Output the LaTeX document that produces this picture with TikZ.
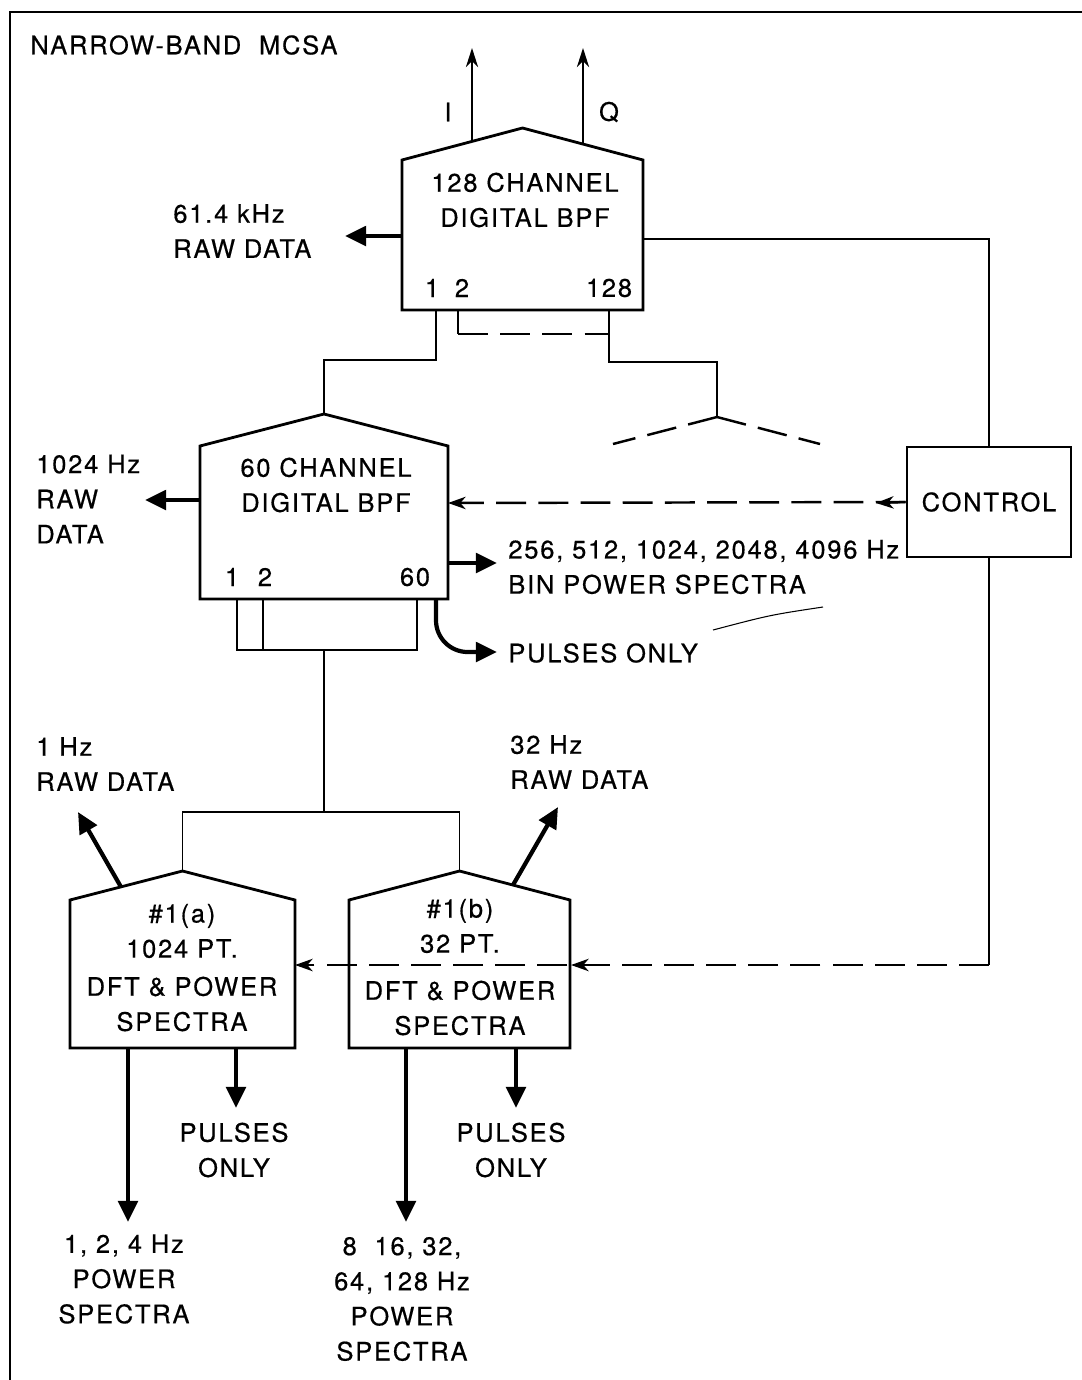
\documentclass[tikz,border=0pt]{standalone}
\usepackage{fontspec}
\setmainfont{TeX Gyre Heros}[LetterSpace=7,FakeBold=0.5]
\usetikzlibrary{arrows.meta,calc}
\tikzset{
  every node/.append style={font=\fontsize{14.5}{20}\selectfont,inner sep=0pt},
  boxline/.style={line width=1.6pt,line join=miter},
  wire/.style={line width=1.1pt},
  dashwire/.style={line width=1.4pt,dash pattern=on 17pt off 7pt},
  fatarrow/.style={line width=2.4pt,-{Triangle[length=12pt,width=11pt]}},
  thinarrow/.style={line width=1.1pt,-{Stealth[length=11pt,width=7pt]}},
  ctlarrow/.style={-{Stealth[length=10pt,width=7pt,inset=3pt]}},
}
% house shaped box: name, left, right, shoulder y, apex y, bottom y
\newcommand{\housebox}[6]{%
  \coordinate (#1-apex) at ({(#2+#3)/2},#5);
  \draw[boxline] (#2,#6) -- (#2,#4) -- (#1-apex) -- (#3,#4) -- (#3,#6) -- cycle;}

\begin{document}
\begin{tikzpicture}[x=0.02cm,y=-0.02cm]
\useasboundingbox (0,0) rectangle (1082,1380);
\draw[boxline] (10,1380) -- (10,12) -- (1082,12);
\node[anchor=west] (title) at (30,45) {NARROW-BAND\ \ MCSA};

% 128 channel filter
\housebox{bpfA}{402}{643}{160}{128}{310}
\node[align=center] (bpfAtxt) at (525,200) {128 CHANNEL\\DIGITAL BPF};
\node (pA1) at (432,288) {1};
\node (pA2) at (462,288) {2};
\node (pA128) at (609,288) {128};
\node (lblI) at (448,112) {I};
\node (lblQ) at (609,112) {Q};
\draw[thinarrow] (472,141) -- (472,48);
\draw[thinarrow] (583,144) -- (583,48);
\node[anchor=west,align=left] (rawA) at (173,231) {61.4 kHz\\RAW DATA};
\draw[fatarrow] (402,236) -- (345,236);

% control
\node[draw,boxline,minimum width=3.28cm,minimum height=2.2cm] (ctrl) at (989,502) {CONTROL};
\draw[wire] (643,239) -| (ctrl.north);

% 60 channel filter
\housebox{bpfB}{200}{448}{446}{414}{599}
\node[align=center] (bpfBtxt) at (326,485) {60 CHANNEL\\DIGITAL BPF};
\node (pB1) at (232,577) {1};
\node (pB2) at (265,577) {2};
\node (pB60) at (415,577) {60};
\node[anchor=west,align=left] (rawB) at (36,499) {1024 Hz\\RAW\\DATA};
\draw[fatarrow] (200,500) -- (145,500);
\node[anchor=west,align=left] (binB) at (508,567) {256, 512, 1024, 2048, 4096 Hz\\BIN POWER SPECTRA};
\draw[fatarrow] (448,563) -- (497,563);
\node[anchor=west] (pulB) at (508,653) {PULSES ONLY};
\draw[fatarrow,rounded corners=18pt] (436,599) |- (497,652);
\draw[line width=0.6pt] (713,630) .. controls (770,615) .. (823,607);
\draw[dashwire,ctlarrow] (ctrl.west) -- (448,503);
\draw[line width=1.4pt,ctlarrow] (ctrl.west) -- (876,503);

% outputs of the 128 channel filter
\draw[wire] (436,310) -- (436,360) -| (bpfB-apex);
\draw[wire] (458,310) -- (458,334);
\draw[dashwire] (458,334) -- (609,334);
\draw[wire] (609,310) -- (609,362) -| (717,417);
\draw[dashwire] (717,417) -- (613,444);
\draw[dashwire] (717,417) -- (820,444);

% outputs of the 60 channel filter
\draw[wire] (237,599) -- (237,650) -- (417,650) -- (417,599);
\draw[wire] (263,599) -- (263,650);
\draw[wire] (324,650) -- (324,812);

% DFT boxes
\housebox{dftA}{70}{295}{900}{871}{1048}
\housebox{dftB}{349}{570}{900}{871}{1048}
\draw[wire] (dftA-apex) -- ++(0,-59) -| (dftB-apex);
\node[align=center] (dftAtop) at (182,931) {\#1(a)\\1024 PT.};
\node[align=center] (dftAbot) at (182,1004) {DFT \& POWER\\SPECTRA};
\node[align=center] (dftBtop) at (460,926) {\#1(b)\\32 PT.};
\node[align=center] (dftBbot) at (460,1008) {DFT \& POWER\\SPECTRA};
\node[anchor=west,align=left] (rawC) at (36,764) {1 Hz\\RAW DATA};
\node[anchor=west,align=left] (rawD) at (510,762) {32 Hz\\RAW DATA};
\draw[fatarrow] (121,887) -- (78,812);
\draw[fatarrow] (513,885) -- (558,807);
\coordinate (ctrlturn) at (ctrl.south |- 0,965);
\draw[wire] (ctrl.south) -- (ctrlturn);
\draw[dashwire,ctlarrow] (ctrlturn) -- (295,965);
\draw[line width=1.4pt,ctlarrow] (600,965) -- (571,965);

% DFT outputs
\draw[fatarrow] (128,1048) -- (128,1222);
\draw[fatarrow] (236,1048) -- (236,1108);
\draw[fatarrow] (406,1048) -- (406,1222);
\draw[fatarrow] (516,1048) -- (516,1108);
\node[align=center] (pulA) at (234,1150) {PULSES\\ONLY};
\node[align=center] (pulD) at (511,1150) {PULSES\\ONLY};
\node[align=center] (specA) at (124,1279) {1, 2, 4 Hz\\POWER\\SPECTRA};
\node[align=center] (specB) at (402,1299) {8\ \ 16, 32,\\64, 128 Hz\\POWER\\SPECTRA};
\end{tikzpicture}
\end{document}
